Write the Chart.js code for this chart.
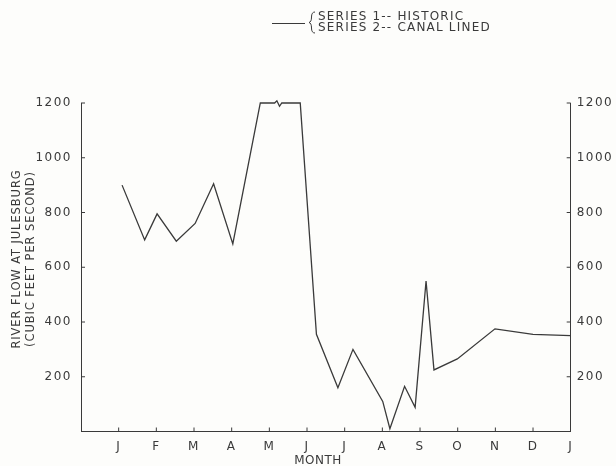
<!DOCTYPE html>
<html>
<head>
<meta charset="utf-8">
<script src="https://cdn.jsdelivr.net/npm/chart.js@4"></script>
<style>
  html, body { margin: 0; padding: 0; background: #fdfdfb; }
  #wrap { width: 616px; height: 466px; position: relative; }
</style>
</head>
<body>
<div id="wrap"><canvas id="flow"></canvas></div>
<script>
const monthLabels = ["J", "F", "M", "A", "M", "J", "J", "A", "S", "O", "N", "D", "J"];
const yTicks = [200, 400, 600, 800, 1000, 1200];
// month position (0 = January tick) and flow in cfs
const flowMonth = [0.09, 0.69, 1.02, 1.53, 2.03, 2.52, 3.03, 3.76, 4.14, 4.2, 4.27, 4.33, 4.82, 5.25, 5.82, 6.22, 7.01, 7.2, 7.59, 7.87, 8.16, 8.37, 8.99, 9.99, 11.0, 12.0];
const flowValue = [900, 700, 795, 695, 760, 905, 685, 1200, 1200, 1208, 1188, 1200, 1200, 355, 160, 300, 110, 10, 165, 88, 550, 225, 265, 375, 355, 350];

const ink = "#3a3a3a";
const font = "DejaVu Sans, sans-serif";
Chart.defaults.font.family = font;
Chart.defaults.color = ink;

const extras = {
  id: "extras",
  beforeDraw(chart) {
    chart.ctx.letterSpacing = "1.5px";
  },
  afterDraw(chart) {
    const { ctx, chartArea: a } = chart;
    const x = chart.scales.x, y = chart.scales.y;
    ctx.save();
    ctx.strokeStyle = ink;
    ctx.lineWidth = 1;
    ctx.beginPath();
    for (let m = 0; m < 12; m++) {
      const px = x.getPixelForValue(m);
      ctx.moveTo(px, a.bottom);
      ctx.lineTo(px, a.bottom - 4);
    }
    yTicks.forEach((v) => {
      const py = y.getPixelForValue(v);
      ctx.moveTo(a.left, py);
      ctx.lineTo(a.left + 4, py);
      ctx.moveTo(a.right, py);
      ctx.lineTo(a.right - 4, py);
    });
    ctx.stroke();

    // legend
    ctx.beginPath();
    ctx.moveTo(272, 23.5);
    ctx.lineTo(305, 23.5);
    ctx.stroke();
    ctx.beginPath();
    ctx.moveTo(315, 12);
    ctx.quadraticCurveTo(311.5, 12, 311.5, 17);
    ctx.quadraticCurveTo(311.5, 22, 309, 22.5);
    ctx.quadraticCurveTo(311.5, 23, 311.5, 28);
    ctx.quadraticCurveTo(311.5, 33, 315, 33);
    ctx.stroke();
    ctx.fillStyle = ink;
    ctx.font = "12px " + font;
    ctx.letterSpacing = "1.2px";
    ctx.textAlign = "left";
    ctx.textBaseline = "middle";
    ctx.fillText("SERIES 1-- HISTORIC", 318, 16.5);
    ctx.fillText("SERIES 2-- CANAL LINED", 318, 28);

    // x axis title
    ctx.textAlign = "center";
    ctx.letterSpacing = "0.5px";
    ctx.fillText("MONTH", 318, 461);

    // y axis title
    ctx.translate(24, 259);
    ctx.rotate(-Math.PI / 2);
    ctx.font = "11.5px " + font;
    ctx.letterSpacing = "0.9px";
    ctx.fillText("RIVER FLOW AT JULESBURG", 0, -7);
    ctx.fillText("(CUBIC FEET PER SECOND)", 0, 7);
    ctx.restore();
  }
};

new Chart(document.getElementById("flow"), {
  type: "line",
  data: {
    datasets: [{
      label: "Series 1 -- Historic / Series 2 -- Canal Lined",
      data: flowMonth.map((m, i) => ({ x: m, y: flowValue[i] })),
      borderColor: ink,
      borderWidth: 1.3,
      pointRadius: 0,
      tension: 0,
      fill: false,
      clip: false
    }]
  },
  options: {
    responsive: true,
    maintainAspectRatio: false,
    animation: false,
    layout: { padding: { top: 103, right: 0, bottom: 0, left: 0 } },
    plugins: { legend: { display: false }, tooltip: { enabled: false } },
    scales: {
      x: {
        type: "linear",
        min: -1,
        max: 12,
        afterFit: (s) => { s.height = 34.5; },
        afterBuildTicks: (s) => { s.ticks = monthLabels.map((_, i) => ({ value: i })); },
        grid: { display: false, drawTicks: false },
        border: { color: ink, width: 1 },
        ticks: {
          autoSkip: false,
          maxRotation: 0,
          padding: 8,
          font: { size: 12 },
          callback: (v) => monthLabels[v] ?? ""
        }
      },
      y: {
        position: "left",
        min: 0,
        max: 1200,
        afterFit: (s) => { s.width = 81; },
        afterBuildTicks: (s) => { s.ticks = yTicks.map((v) => ({ value: v })); },
        grid: { display: false, drawTicks: false },
        border: { color: ink, width: 1 },
        ticks: { padding: 9, font: { size: 12 }, callback: (v) => String(v) }
      },
      y2: {
        position: "right",
        min: 0,
        max: 1200,
        afterFit: (s) => { s.width = 45.3; },
        afterBuildTicks: (s) => { s.ticks = yTicks.map((v) => ({ value: v })); },
        grid: { display: false, drawTicks: false },
        border: { color: ink, width: 1 },
        ticks: { padding: 6, font: { size: 12 }, callback: (v) => String(v) }
      }
    }
  },
  plugins: [extras]
});
</script>
</body>
</html>
